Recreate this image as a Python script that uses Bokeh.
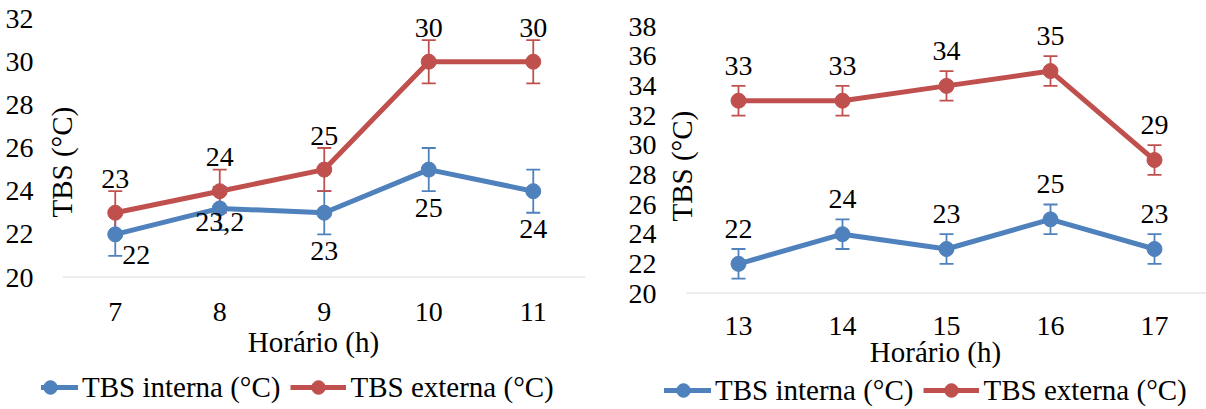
import math

from bokeh.core.properties import value
from bokeh.embed import file_html
from bokeh.layouts import column, row
from bokeh.models import (ColumnDataSource, FixedTicker, Label, Legend,
                          LegendItem, Range1d, TeeHead, Whisker)
from bokeh.plotting import figure
from bokeh.resources import INLINE

# Morning readings (7 h - 11 h)
hours_am = [7, 8, 9, 10, 11]
internal_am = [22, 23.2, 23, 25, 24]
external_am = [23, 24, 25, 30, 30]
err_internal_am = [1, 1, 1, 1, 1]
err_external_am = [1, 1, 1, 1, 1]

# Afternoon readings (13 h - 17 h)
hours_pm = [13, 14, 15, 16, 17]
internal_pm = [22, 24, 23, 25, 23]
external_pm = [33, 33, 34, 35, 29]
err_internal_pm = [1, 1, 1, 1, 1]
err_external_pm = [1, 1, 1, 1, 1]

yticks_am = [20, 22, 24, 26, 28, 30, 32]
yticks_pm = [20, 22, 24, 26, 28, 30, 32, 34, 36, 38]

BLUE = "#4F81BD"
RED = "#C0504D"
AXIS_GRAY = "#D9D9D9"
FONT = "serif"
LABEL_INT = "TBS interna (°C)"
LABEL_EXT = "TBS externa (°C)"
SERIES = ((BLUE, LABEL_INT), (RED, LABEL_EXT))


def fmt(v):
    return str(int(v)) if float(v).is_integer() else str(v).replace(".", ",")


def make_chart(hours, internal, external, err_int, err_ext, yticks,
               width, height, frame_left, frame_right, step, y_px, y_bottom,
               tick_standoff, title_standoff, int_off, ext_off, title_px):
    p = figure(width=width, height=height, output_backend="svg",
               toolbar_location=None,
               min_border_left=frame_left,
               min_border_right=width - frame_right,
               min_border_top=0,
               min_border_bottom=height - y_bottom)
    span_px = frame_right - frame_left
    p.x_range = Range1d(hours[-1] + 0.5 - span_px / step, hours[-1] + 0.5)
    p.y_range = Range1d(yticks[0], yticks[0] + y_bottom / y_px)

    p.outline_line_color = None
    p.xgrid.grid_line_color = None
    p.ygrid.grid_line_color = None

    p.xaxis.ticker = FixedTicker(ticks=hours)
    p.xaxis.axis_line_color = None
    p.xaxis.major_tick_line_color = None
    p.xaxis.minor_tick_line_color = None
    p.xaxis.major_label_standoff = tick_standoff
    p.xaxis.major_label_text_font = FONT
    p.xaxis.major_label_text_font_size = "28px"
    p.xaxis.major_label_text_color = "black"
    p.xaxis.axis_label = "Horário (h)"
    p.xaxis.axis_label_text_font = FONT
    p.xaxis.axis_label_text_font_size = "29px"
    p.xaxis.axis_label_text_font_style = "normal"
    p.xaxis.axis_label_text_color = "black"
    p.xaxis.axis_label_standoff = title_standoff

    p.yaxis.ticker = FixedTicker(ticks=yticks)
    p.yaxis.axis_line_color = None
    p.yaxis.major_tick_line_color = None
    p.yaxis.minor_tick_line_color = None
    p.yaxis.major_label_standoff = 2
    p.yaxis.major_label_text_font = FONT
    p.yaxis.major_label_text_font_size = "28px"
    p.yaxis.major_label_text_color = "black"

    # baseline under the five hourly categories
    p.segment(x0=[hours[0] - 0.5], x1=[hours[-1] + 0.5],
              y0=[yticks[0]], y1=[yticks[0]], line_color=AXIS_GRAY,
              line_width=2)

    src = ColumnDataSource(dict(
        x=hours,
        yi=internal, yi_lo=[v - e for v, e in zip(internal, err_int)],
        yi_hi=[v + e for v, e in zip(internal, err_int)],
        ye=external, ye_lo=[v - e for v, e in zip(external, err_ext)],
        ye_hi=[v + e for v, e in zip(external, err_ext)],
        li=[fmt(v) for v in internal], le=[fmt(v) for v in external],
        idx=int_off[0], idy=int_off[1], edx=ext_off[0], edy=ext_off[1],
    ))

    for key, txt, dxk, dyk, (col, _) in zip(("yi", "ye"), ("li", "le"),
                                            ("idx", "edx"), ("idy", "edy"),
                                            SERIES):
        p.add_layout(Whisker(source=src, base="x", lower=key + "_lo",
                             upper=key + "_hi", line_color=col,
                             line_width=1.8,
                             lower_head=TeeHead(size=14, line_color=col,
                                                line_width=1.8),
                             upper_head=TeeHead(size=14, line_color=col,
                                                line_width=1.8)))
        p.line("x", key, source=src, line_color=col, line_width=5)
        p.scatter("x", key, source=src, size=15, fill_color=col,
                  line_color=col)
        # value labels as text glyphs (screen offsets, y grows downward)
        p.text(x="x", y=key, text=txt, source=src,
               x_offset=dxk, y_offset=dyk,
               text_align="center", text_baseline="middle",
               text_font=value(FONT), text_font_size=value("28px"),
               text_color="black")

    # y-axis title sits between the tick labels and the first category
    p.add_layout(Label(x=p.x_range.start + (title_px[0] - frame_left) / step,
                       y=yticks[0] + (y_bottom - title_px[1]) / y_px,
                       text="TBS  (°C)", angle=math.pi / 2,
                       text_align="center", text_baseline="middle",
                       text_font=FONT, text_font_size="29px",
                       text_color="black"))
    return p


def make_legend(width, height, x, y):
    lp = figure(width=width, height=height, output_backend="svg",
                toolbar_location=None, x_axis_type=None, y_axis_type=None,
                x_range=Range1d(0, 1), y_range=Range1d(0, 1),
                min_border=0)
    lp.outline_line_color = None
    lp.xgrid.grid_line_color = None
    lp.ygrid.grid_line_color = None
    items = []
    for col, lab in SERIES:
        # swatch renderers kept outside the visible range
        ln = lp.line(x=[-2, -1], y=[-2, -1], line_color=col, line_width=5)
        mk = lp.scatter(x=[-2], y=[-2], size=15, fill_color=col,
                        line_color=col)
        items.append(LegendItem(label=lab, renderers=[ln, mk]))
    lp.add_layout(Legend(items=items, orientation="horizontal",
                         location=(x, y), glyph_width=56, glyph_height=34,
                         label_standoff=4, spacing=10, padding=0, margin=0,
                         border_line_color=None, background_fill_alpha=0,
                         label_text_font=FONT, label_text_font_size="29px",
                         label_text_color="black"), "center")
    return lp


left = make_chart(hours_am, internal_am, external_am, err_internal_am,
                  err_external_am, yticks_am, width=600, height=370,
                  frame_left=41, frame_right=585, step=104.5, y_px=21.58,
                  y_bottom=277, tick_standoff=19, title_standoff=2,
                  int_off=([21, 0, 0, 0, 0], [21, 14, 38, 38, 38]),
                  ext_off=([0] * 5, [-34] * 5),
                  title_px=(61, 158))

right = make_chart(hours_pm, internal_pm, external_pm, err_internal_pm,
                   err_external_pm, yticks_pm, width=606, height=372,
                   frame_left=64, frame_right=606, step=104.0, y_px=14.83,
                   y_bottom=293, tick_standoff=17, title_standoff=-2,
                   int_off=([0] * 5, [-35] * 5),
                   ext_off=([0] * 5, [-35] * 5),
                   title_px=(81, 162))

# legend strips share the frame edges of the charts above them
left_legend = make_legend(600, 39, 22 - 41, 5)
right_legend = make_legend(606, 37, 55 - 64, 2)

layout = row(column(left, left_legend, spacing=0),
             column(right, right_legend, spacing=0), spacing=0)
open("out.html", "w").write(file_html(layout, INLINE))
